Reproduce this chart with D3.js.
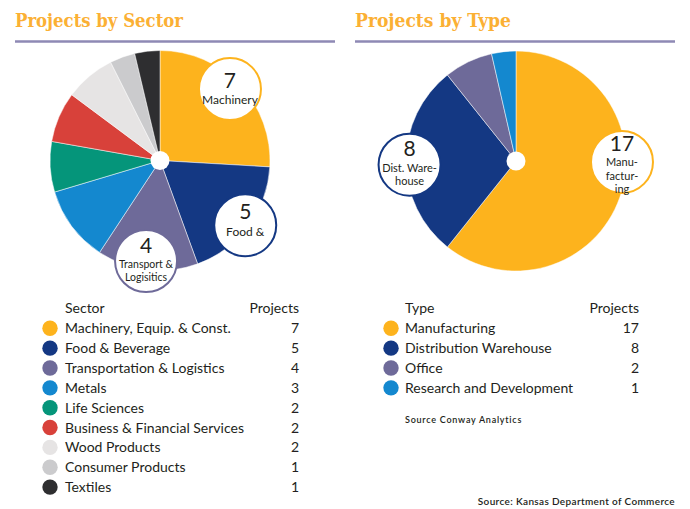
<!DOCTYPE html>
<html><head><meta charset="utf-8">
<script src="https://cdn.jsdelivr.net/npm/d3@7"></script>
<style>body{margin:0;background:#fff}svg{display:block}</style>
</head><body>
<svg id="c" width="690" height="509"></svg>
<script>
const sectorNames = ["Machinery, Equip. & Const.","Food & Beverage","Transportation & Logistics","Metals","Life Sciences","Business & Financial Services","Wood Products","Consumer Products","Textiles"];
const sectorValues = [7,5,4,3,2,2,2,1,1];
const sectorColors = ["#FDB31D","#143883","#6E6A99","#1488CF","#05957A","#D8413A","#E6E4E4","#CBCBCD","#2E2E30"];
const sectorCallouts = [["Machinery"],["Food &"],["Transport &","Logisitics"],null,null,null,null,null,null];

const typeNames = ["Manufacturing","Distribution Warehouse","Office","Research and Development"];
const typeValues = [17,8,2,1];
const typeColors = ["#FDB31D","#143883","#6E6A99","#1488CF"];
const typeCallouts = [["Manu-","factur-","ing"],["Dist. Ware-","house"],null,null];

const svg = d3.select("#c");
const txt = "#231F20";
const sans = "Lato, 'Open Sans', sans-serif";

function header(x, title, w){
  svg.append("text").attr("x",x).attr("y",27).text(title)
    .attr("font-family","'DejaVu Serif', serif").attr("font-weight","bold")
    .attr("font-size",18).attr("fill","#FBB034")
    .attr("textLength",w).attr("lengthAdjust","spacingAndGlyphs");
  svg.append("line").attr("x1",x).attr("x2",x+320).attr("y1",41.5).attr("y2",41.5)
    .attr("stroke","#8E89B4").attr("stroke-width",2.5);
}
header(15,"Projects by Sector",168);
header(355,"Projects by Type",156);

// layout per callout: angle (deg, clockwise from top), distance, number dy, label dy, line height, label size
function pie(cx, cy, values, colors, callouts, layout){
  const g = svg.append("g").attr("transform",`translate(${cx},${cy})`);
  const arcs = d3.pie().sort(null).value(d=>d)(values);
  const arc = d3.arc().innerRadius(0).outerRadius(110);
  g.selectAll("path").data(arcs).join("path").attr("d",arc)
    .attr("fill",(d,i)=>colors[i]).attr("stroke","#fff").attr("stroke-width",0.5);
  g.append("circle").attr("r",9.5).attr("fill","#fff");
  arcs.forEach((a,i)=>{
    if(!callouts[i]) return;
    const L = layout[i];
    const ang = L.ang*Math.PI/180;
    const x = Math.sin(ang)*L.dist, y = -Math.cos(ang)*L.dist;
    const cg = g.append("g").attr("transform",`translate(${x},${y})`);
    cg.append("circle").attr("r",31).attr("fill","#fff").attr("stroke",colors[i]).attr("stroke-width",2);
    cg.append("text").attr("x",0).attr("y",L.ny).attr("text-anchor","middle")
      .attr("font-family",sans).attr("font-size",21).attr("fill",txt).text(values[i]);
    callouts[i].forEach((l,j)=>{
      cg.append("text").attr("x",0).attr("y",L.ly+j*L.lh).attr("text-anchor","middle")
        .attr("font-family",sans).attr("font-size",L.fs).attr("fill",txt).text(l);
    });
  });
}
pie(160,160.5,sectorValues,sectorColors,sectorCallouts,[
  {ang:44.4,dist:100,ny:-1,ly:15,lh:12,fs:12},
  {ang:127.2,dist:107,ny:-6,ly:10.5,lh:12,fs:12},
  {ang:187.9,dist:101.5,ny:-8,ly:7.2,lh:12.4,fs:10.5}
]);
pie(516,161,typeValues,typeColors,typeCallouts,[
  {ang:90.5,dist:106,ny:-11,ly:4.5,lh:13.3,fs:11},
  {ang:268,dist:106.5,ny:-9,ly:7,lh:13.3,fs:11}
]);

function legend(cx, tx, rx, headerLabel, names, values, colors){
  const g = svg.append("g");
  g.append("text").attr("x",tx).attr("y",313).text(headerLabel)
    .attr("font-family",sans).attr("font-size",14).attr("fill",txt);
  g.append("text").attr("x",rx).attr("y",313).attr("text-anchor","end").text("Projects")
    .attr("font-family",sans).attr("font-size",14).attr("fill",txt);
  const y = d3.scaleLinear().domain([0,1]).range([328.3,348.15]);
  names.forEach((nm,i)=>{
    g.append("circle").attr("cx",cx).attr("cy",y(i)).attr("r",7.7).attr("fill",colors[i]);
    g.append("text").attr("x",tx).attr("y",y(i)+5).text(nm)
      .attr("font-family",sans).attr("font-size",14).attr("fill",txt);
    g.append("text").attr("x",rx).attr("y",y(i)+5).attr("text-anchor","end").text(values[i])
      .attr("font-family",sans).attr("font-size",14).attr("fill",txt);
  });
}
legend(50,65,299,"Sector",sectorNames,sectorValues,sectorColors);
legend(391,405,639,"Type",typeNames,typeValues,typeColors);

svg.append("text").attr("x",405).attr("y",423).text("Source Conway Analytics")
  .attr("font-family",sans).attr("font-size",9).attr("font-weight",600)
  .attr("letter-spacing",0.75).attr("fill",txt);
svg.append("text").attr("x",675).attr("y",505).attr("text-anchor","end").text("Source: Kansas Department of Commerce")
  .attr("font-family",sans).attr("font-size",10).attr("font-weight",600)
  .attr("letter-spacing",0.35).attr("fill",txt);
</script>
</body></html>
